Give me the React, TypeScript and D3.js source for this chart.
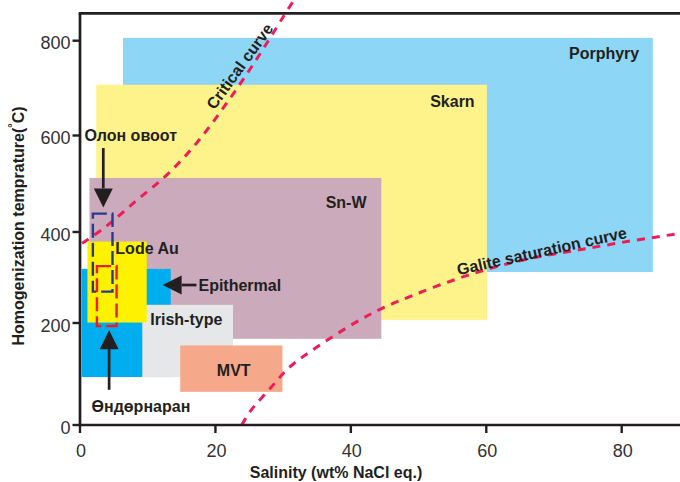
import React from "react";
import * as d3 from "d3";

// ---- Data ----
const regionNames = ["Porphyry", "Skarn", "Sn-W", "Epithermal", "Irish-type", "Lode Au", "MVT"];
const regionSalMin = [6.35, 2.4, 1.4, 0.25, 9.2, 1.1, 14.8];
const regionSalMax = [84.6, 60.1, 44.5, 13.4, 22.6, 9.85, 29.9];
const regionTMin = [312, 207, 169, 94, 94, 201, 65];
const regionTMax = [806, 707, 512, 319, 240, 379, 156];
const regionColors = ["#8dd6f6", "#fef28a", "#cbaabb", "#00aeef", "#e6e7e8", "#fff200", "#f5a88a"];
const regionLabelSal = [77.4, 55.0, 39.3, 23.6, 15.7, 9.9, 22.7];
const regionLabelT = [772, 671, 462, 283.5, 206.6, 364.8, 105.9];

const sampleNames = ["Олон овоот", "Өндөрнаран"];
const sampleSalMin = [1.9, 2.5];
const sampleSalMax = [4.8, 5.4];
const sampleTMin = [269, 194];
const sampleTMax = [438, 325];
const sampleColors = ["#2b3990", "#ed1c24"];
const sampleLabelSal = [7.5, 9.0];
const sampleLabelT = [601, 37];

// arrows: [Олон овоот, Өндөрнаран, Epithermal]
const arrowFromSal = [3.44, 4.3, 17.2];
const arrowFromT = [574, 69, 283.5];
const arrowToSal = [3.44, 4.3, 12.2];
const arrowToT = [451, 186, 283.5];

const criticalSal = [0.3, 3.9, 8.4, 12.8, 17.2, 21.6, 25.9, 30.0, 31.6];
const criticalT = [375, 412, 466, 518, 584, 667, 757, 850, 886];
const galiteSal = [23.9, 25.1, 28.3, 31.0, 35.0, 40.9, 44.6, 49.2, 55.1, 60.6, 66.5, 73.4, 80.8, 88.6];
const galiteT = [0, 26, 75, 114, 153, 203, 232, 261, 294, 320, 342, 360, 379, 397];

const xTicks = [0, 20, 40, 60, 80];
const yTicks = [0, 200, 400, 600, 800];

const W = 680;
const H = 482;
const FONT = "'Liberation Sans', Arial, Helvetica, sans-serif";
const TEXT = "#231f20";
const CURVE = "#ee1d5a";

export default function App() {
  const x = d3.scaleLinear().domain([0, 80]).range([80, 621.7]);
  const y = d3.scaleLinear().domain(yTicks).range([425, 323, 232, 135.5, 40.7]);
  const xMaxVal = x.invert(W);

  const line = d3
    .line<[number, number]>()
    .x((d) => x(d[0]))
    .y((d) => y(d[1]))
    .curve(d3.curveCatmullRom.alpha(0.5));

  const critical = line(criticalSal.map((s, i) => [s, criticalT[i]] as [number, number]));
  const galite = line(galiteSal.map((s, i) => [s, galiteT[i]] as [number, number]));

  const arrows = arrowFromSal.map((_, i) => {
    const x1 = x(arrowFromSal[i]);
    const y1 = y(arrowFromT[i]);
    const x2 = x(arrowToSal[i]);
    const y2 = y(arrowToT[i]);
    const len = Math.hypot(x2 - x1, y2 - y1);
    const ux = (x2 - x1) / len;
    const uy = (y2 - y1) / len;
    const hl = 19;
    const hw = 9.5;
    const bx = x2 - ux * hl;
    const by = y2 - uy * hl;
    const pts = `${x2},${y2} ${bx - uy * hw},${by + ux * hw} ${bx + uy * hw},${by - ux * hw}`;
    return { x1, y1, bx, by, pts };
  });

  const xAxisY = y(0);
  const topY = 13.3;

  return (
    <svg
      width={W}
      height={H}
      style={{ position: "absolute", left: 0, top: 0, background: "#fff" }}
      fontFamily={FONT}
    >
      {/* regions */}
      {regionNames.map((n, i) => (
        <rect
          key={n}
          x={x(regionSalMin[i])}
          y={y(regionTMax[i])}
          width={x(regionSalMax[i]) - x(regionSalMin[i])}
          height={y(regionTMin[i]) - y(regionTMax[i])}
          fill={regionColors[i]}
        />
      ))}

      {/* curves */}
      <path d={critical || ""} fill="none" stroke={CURVE} strokeWidth={3} strokeDasharray="8,7" />
      <path d={galite || ""} fill="none" stroke={CURVE} strokeWidth={3} strokeDasharray="8,7" />

      {/* sample boxes */}
      {sampleNames.map((n, i) => (
        <rect
          key={n}
          x={x(sampleSalMin[i])}
          y={y(sampleTMax[i])}
          width={x(sampleSalMax[i]) - x(sampleSalMin[i])}
          height={y(sampleTMin[i]) - y(sampleTMax[i])}
          fill="none"
          stroke={sampleColors[i]}
          strokeWidth={2.4}
          strokeDasharray="14,5"
        />
      ))}

      {/* region labels */}
      {regionNames.map((n, i) => (
        <text
          key={n}
          x={x(regionLabelSal[i])}
          y={y(regionLabelT[i])}
          textAnchor="middle"
          dominantBaseline="central"
          fontSize={16}
          fontWeight="bold"
          fill={TEXT}
        >
          {n}
        </text>
      ))}

      {/* sample labels */}
      {sampleNames.map((n, i) => (
        <text
          key={n}
          x={x(sampleLabelSal[i])}
          y={y(sampleLabelT[i])}
          textAnchor="middle"
          dominantBaseline="central"
          fontSize={16}
          fontWeight="bold"
          fill={TEXT}
        >
          {n}
        </text>
      ))}

      {/* arrows */}
      {arrows.map((a, i) => (
        <g key={i}>
          <line x1={a.x1} y1={a.y1} x2={a.bx} y2={a.by} stroke={TEXT} strokeWidth={2.7} />
          <polygon points={a.pts} fill={TEXT} />
        </g>
      ))}

      {/* curve labels */}
      <text
        transform={`translate(${x(23.6)},${y(746)}) rotate(-54)`}
        textAnchor="middle"
        dominantBaseline="central"
        fontSize={16}
        fontWeight="bold"
        fill={TEXT}
      >
        Critical curve
      </text>
      <text
        transform={`translate(${x(68.2)},${y(358)}) rotate(-12.5)`}
        textAnchor="middle"
        dominantBaseline="central"
        fontSize={16}
        fontWeight="bold"
        fill={TEXT}
      >
        Galite saturation curve
      </text>

      {/* axes */}
      <line x1={x(0)} y1={topY} x2={x(0)} y2={xAxisY} stroke={TEXT} strokeWidth={2.7} />
      <line x1={x(0) - 1.3} y1={topY} x2={W} y2={topY} stroke={TEXT} strokeWidth={2.7} />
      <line x1={x(0) - 1.3} y1={xAxisY} x2={x(xMaxVal)} y2={xAxisY} stroke={TEXT} strokeWidth={2.7} />
      {yTicks.map((t) => (
        <g key={"y" + t}>
          <line x1={x(0) - 7.5} y1={y(t)} x2={x(0)} y2={y(t)} stroke={TEXT} strokeWidth={2.4} />
          <text
            x={x(0) - 9.5}
            y={y(t) + 2.5}
            textAnchor="end"
            dominantBaseline="central"
            fontSize={18}
            fill="#333"
          >
            {t}
          </text>
        </g>
      ))}
      {xTicks.map((t) => (
        <g key={"x" + t}>
          <line x1={x(t)} y1={xAxisY} x2={x(t)} y2={xAxisY + 8} stroke={TEXT} strokeWidth={2.4} />
          <text
            x={x(t) + 1}
            y={451}
            textAnchor="middle"
            dominantBaseline="central"
            fontSize={18}
            fill="#333"
          >
            {t}
          </text>
        </g>
      ))}

      {/* axis titles */}
      <text x={336} y={472} textAnchor="middle" dominantBaseline="central" fontSize={16} fontWeight="bold" fill={TEXT}>
        Salinity (wt% NaCl eq.)
      </text>
      <text
        transform={`translate(18,${226}) rotate(-90)`}
        textAnchor="middle"
        dominantBaseline="central"
        fontSize={16}
        fontWeight="bold"
        fill={TEXT}
      >
        Homogenization temprature(
        <tspan fontSize={11} dy={-6}>°</tspan>
        <tspan dy={6}>C)</tspan>
      </text>
    </svg>
  );
}
